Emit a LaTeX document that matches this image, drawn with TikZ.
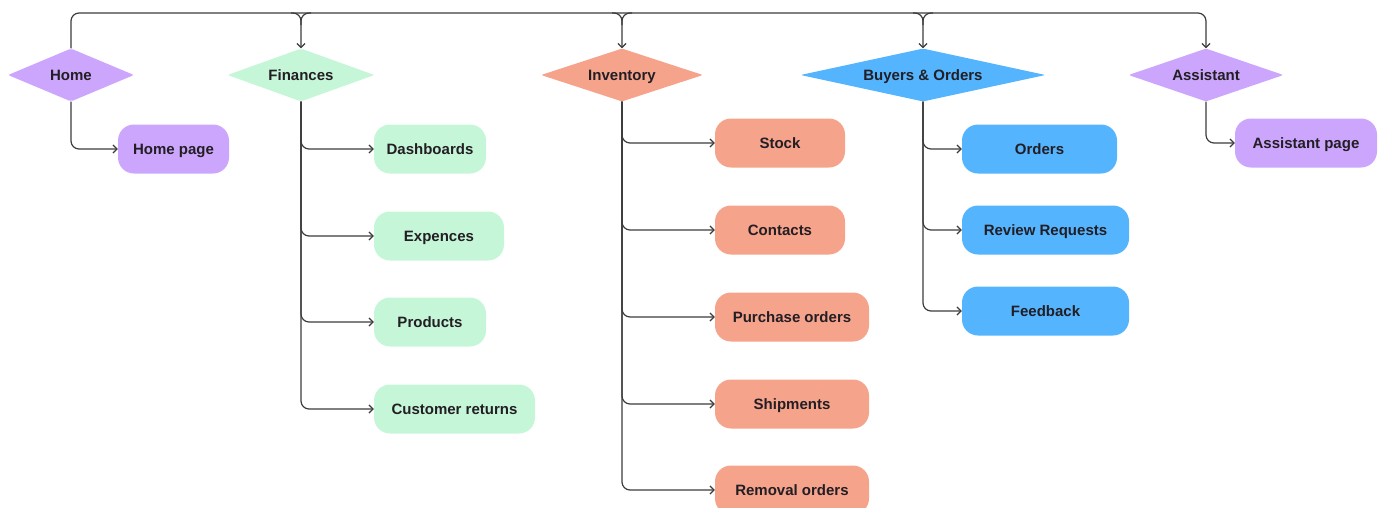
\documentclass[tikz,border=0pt]{standalone}
\usepackage{fontspec}
\setmainfont{Liberation Sans}
\usetikzlibrary{shapes.geometric,arrows.meta,calc}
\definecolor{lilac}{RGB}{203,166,252}
\definecolor{mint}{RGB}{198,246,216}
\definecolor{salmon}{RGB}{246,163,140}
\definecolor{sky}{RGB}{84,180,254}
\definecolor{ink}{RGB}{34,30,36}
\definecolor{wire}{RGB}{60,60,60}
\tikzset{
  x=1pt, y=-1pt,
  every node/.style={font=\fontsize{15}{18}\selectfont\bfseries, text=ink,
    text height=13.8pt, text depth=3pt},
  section/.style={diamond, inner sep=0pt, rounded corners=2pt, minimum height=53pt},
  pagebox/.style={rectangle, rounded corners=16pt, minimum height=49pt, inner sep=0pt},
  link/.style={draw=wire, line width=1.2pt, rounded corners=8pt,
    -{Straight Barb[length=4pt,width=8pt,line width=1.2pt]}},
  wireonly/.style={draw=wire, line width=1.2pt, rounded corners=8pt},
}
\begin{document}
\begin{tikzpicture}
\useasboundingbox (0,0) rectangle (1385,507);

% top-level sections
\node[section, fill=lilac,  minimum width=126pt, aspect=2.4] (home) at (71,75)   {Home};
\node[section, fill=mint,   minimum width=147pt, aspect=2.8] (fin)  at (301,75)  {Finances};
\node[section, fill=salmon, minimum width=162pt, aspect=3.1] (inv)  at (622,75)  {Inventory};
\node[section, fill=sky,    minimum width=245pt, aspect=4.6] (buy)  at (923,75)  {Buyers \& Orders};
\node[section, fill=lilac,  minimum width=155pt, aspect=2.9] (asst) at (1206,75) {Assistant};

% pages
\node[pagebox, fill=lilac, minimum width=111pt] (homepage) at (173.5,149) {Home page};

\node[pagebox, fill=mint, minimum width=112pt] (dash) at (430,149)   {Dashboards};
\node[pagebox, fill=mint, minimum width=130pt] (exp)  at (439,236)   {Expences};
\node[pagebox, fill=mint, minimum width=112pt] (prod) at (430,322)   {Products};
\node[pagebox, fill=mint, minimum width=161pt] (ret)  at (454.5,409) {Customer returns};

\node[pagebox, fill=salmon, minimum width=130pt] (stock) at (780,143) {Stock};
\node[pagebox, fill=salmon, minimum width=130pt] (cont)  at (780,230) {Contacts};
\node[pagebox, fill=salmon, minimum width=154pt] (po)    at (792,317) {Purchase orders};
\node[pagebox, fill=salmon, minimum width=154pt] (ship)  at (792,404) {Shipments};
\node[pagebox, fill=salmon, minimum width=154pt] (rem)   at (792,490) {Removal orders};

\node[pagebox, fill=sky, minimum width=155pt] (ord) at (1039.5,149) {Orders};
\node[pagebox, fill=sky, minimum width=167pt] (rev) at (1045.5,230) {Review Requests};
\node[pagebox, fill=sky, minimum width=167pt] (fb)  at (1045.5,311) {Feedback};

\node[pagebox, fill=lilac, minimum width=142pt] (asstpage) at (1306,143) {Assistant page};

% top bus from Home to Assistant
\coordinate (busL) at (71,13);
\coordinate (busR) at (1206,13);
\draw[link] (home.north) -- (busL) -- (busR) -- (asst.north);
% drops from the bus, each with a fork joint
\foreach \t in {fin,inv,buy}{
  \coordinate (j) at (\t.north |- busL);
  \draw[link] ($(j)+(-10,0)$) -| (\t.north);
  \draw[wireonly] ($(j)+(10,0)$) -| ($(j)+(0,12)$);
}

% branches to pages
\foreach \s/\p in {home/homepage, fin/dash, fin/exp, fin/prod, fin/ret,
                   inv/stock, inv/cont, inv/po, inv/ship, inv/rem,
                   buy/ord, buy/rev, buy/fb, asst/asstpage}{
  \draw[link] (\s.south) |- (\p.west);
}
\end{tikzpicture}
\end{document}
